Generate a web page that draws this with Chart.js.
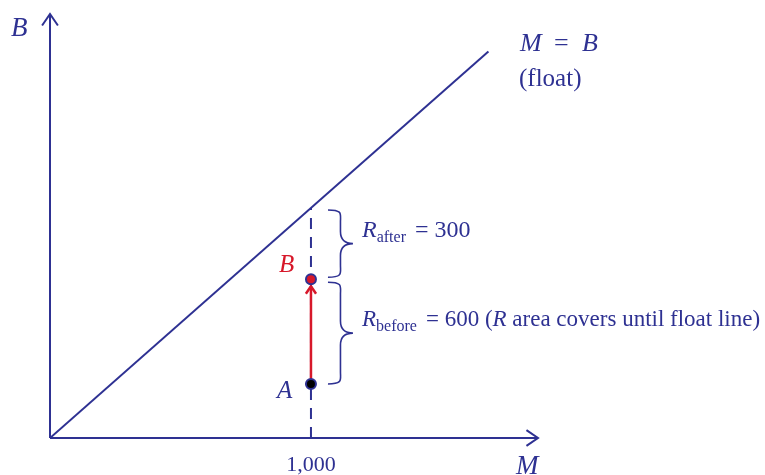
<!DOCTYPE html>
<html>
<head>
<meta charset="utf-8">
<script src="https://cdn.jsdelivr.net/npm/chart.js@4.4.1/dist/chart.umd.min.js"></script>
<style>
  html, body { margin: 0; padding: 0; background: #fff; }
  #wrap { width: 765px; height: 475px; position: relative; }
</style>
</head>
<body>
<div id="wrap"><canvas id="c"></canvas></div>
<script>
// data
const floatLine = [0, 1680];          // M = B
const marketValue = 1000;             // M of the firm
const pointA = 235;                   // B before
const pointB = 690;                   // B after
const xTicks = [1000];
const xMax = 1870, yMax = 1843;

const navy = '#2e3192';
const red = '#d7182a';
const serif = '"Liberation Serif", "DejaVu Serif", serif';

function arrowHead(ctx, x, y, dx, dy, len) {
  // open "V" arrow pointing in direction (dx,dy)
  const a = Math.atan2(dy, dx);
  ctx.beginPath();
  ctx.moveTo(x - len * Math.cos(a - 0.6), y - len * Math.sin(a - 0.6));
  ctx.lineTo(x, y);
  ctx.lineTo(x - len * Math.cos(a + 0.6), y - len * Math.sin(a + 0.6));
  ctx.stroke();
}

// curly brace, opening to the left, from y1 (top) to y2 (bottom)
function brace(ctx, x, y1, y2, w) {
  const ym = (y1 + y2) / 2;
  ctx.beginPath();
  ctx.moveTo(x, y1);
  ctx.bezierCurveTo(x + w * 0.6, y1, x + w * 0.5, y1 + 4, x + w * 0.5, y1 + 12);
  ctx.lineTo(x + w * 0.5, ym - 12);
  ctx.bezierCurveTo(x + w * 0.5, ym - 3, x + w * 0.7, ym, x + w, ym);
  ctx.bezierCurveTo(x + w * 0.7, ym, x + w * 0.5, ym + 3, x + w * 0.5, ym + 12);
  ctx.lineTo(x + w * 0.5, y2 - 12);
  ctx.bezierCurveTo(x + w * 0.5, y2 - 4, x + w * 0.6, y2, x, y2);
  ctx.stroke();
}

function subText(ctx, x, y, size, main, sub, rest) {
  ctx.font = 'italic ' + size + 'px ' + serif;
  ctx.fillText(main, x, y);
  let w = ctx.measureText(main).width;
  ctx.font = Math.round(size * 0.68) + 'px ' + serif;
  ctx.fillText(sub, x + w, y + 5);
  w += ctx.measureText(sub).width + 9;
  let cx = x + w;
  for (const part of rest) {
    ctx.font = (part.it ? 'italic ' : '') + size + 'px ' + serif;
    ctx.fillText(part.t, cx, y);
    cx += ctx.measureText(part.t).width;
  }
}

const decor = {
  id: 'decor',
  afterDatasetsDraw(chart) {
    const ctx = chart.ctx;
    const xs = chart.scales.x, ys = chart.scales.y;
    const x0 = xs.getPixelForValue(0), y0 = ys.getPixelForValue(0);
    const xE = xs.getPixelForValue(xMax), yE = ys.getPixelForValue(yMax);
    ctx.save();
    ctx.strokeStyle = navy;
    ctx.lineWidth = 2;
    // axes
    ctx.beginPath();
    ctx.moveTo(x0, y0); ctx.lineTo(xE, y0);
    ctx.moveTo(x0, y0); ctx.lineTo(x0, yE);
    ctx.stroke();
    arrowHead(ctx, xE, y0, 1, 0, 14);
    arrowHead(ctx, x0, yE, 0, -1, 14);

    // tick labels
    ctx.fillStyle = navy;
    ctx.font = '22px ' + serif;
    ctx.textAlign = 'center';
    xTicks.forEach(v => ctx.fillText(v.toLocaleString('en-US'), xs.getPixelForValue(v), y0 + 33));
    ctx.textAlign = 'left';

    // red arrow A -> B
    const px = xs.getPixelForValue(marketValue);
    const pa = ys.getPixelForValue(pointA), pb = ys.getPixelForValue(pointB);
    ctx.strokeStyle = red;
    ctx.lineWidth = 2.5;
    ctx.beginPath();
    ctx.moveTo(px, pa); ctx.lineTo(px, pb + 7);
    ctx.stroke();
    arrowHead(ctx, px, pb + 7, 0, -1, 9);

    // points on top
    [[pointA, '#000'], [pointB, red]].forEach(([v, c]) => {
      ctx.beginPath();
      ctx.arc(px, ys.getPixelForValue(v), 5, 0, Math.PI * 2);
      ctx.fillStyle = c; ctx.fill();
      ctx.lineWidth = 2; ctx.strokeStyle = navy; ctx.stroke();
    });

    // braces
    const pTop = ys.getPixelForValue(marketValue);
    ctx.strokeStyle = navy;
    ctx.lineWidth = 1.6;
    brace(ctx, px + 17, pTop + 2, pb - 2, 25);
    brace(ctx, px + 17, pb + 3, pa, 25);

    // labels
    ctx.fillStyle = navy;
    ctx.textBaseline = 'alphabetic';
    ctx.font = 'italic 27px ' + serif;
    ctx.fillText('B', 11, 36);
    ctx.fillText('M', 516, 474);
    ctx.font = 'italic 25px ' + serif;
    ctx.fillText('A', 277, 398);
    ctx.font = 'italic 26px ' + serif;
    ctx.fillText('M', 520, 51);
    ctx.font = '26px ' + serif;
    ctx.fillText('=', 554, 51);
    ctx.font = 'italic 26px ' + serif;
    ctx.fillText('B', 582, 51);
    ctx.font = '25px ' + serif;
    ctx.fillText('(float)', 519, 86);
    ctx.fillStyle = red;
    ctx.font = 'italic 25px ' + serif;
    ctx.fillText('B', 279, 272);
    ctx.fillStyle = navy;
    subText(ctx, 362, 237, 24, 'R', 'after', [{t: '= 300'}]);
    subText(ctx, 362, 326, 23, 'R', 'before', [{t: '= 600 ('}, {t: 'R', it: true}, {t: ' area covers until float line)'}]);
    ctx.restore();
  }
};

new Chart(document.getElementById('c'), {
  type: 'scatter',
  data: {
    datasets: [
      {
        data: floatLine.map(v => ({x: v, y: v})),
        showLine: true, borderColor: navy, borderWidth: 2, pointRadius: 0
      },
      {
        data: [{x: marketValue, y: 0}, {x: marketValue, y: marketValue}],
        showLine: true, borderColor: navy, borderWidth: 2, borderDash: [11, 8], pointRadius: 0
      },
      {
        data: [{x: marketValue, y: pointA}, {x: marketValue, y: pointB}],
        showLine: false, pointRadius: 0
      }
    ]
  },
  options: {
    responsive: true, maintainAspectRatio: false, animation: false,
    layout: { padding: { left: 50, right: 227, top: 14, bottom: 37 } },
    plugins: { legend: { display: false }, tooltip: { enabled: false } },
    scales: {
      x: { type: 'linear', min: 0, max: xMax, display: false },
      y: { type: 'linear', min: 0, max: yMax, display: false }
    }
  },
  plugins: [decor]
});
</script>
</body>
</html>
